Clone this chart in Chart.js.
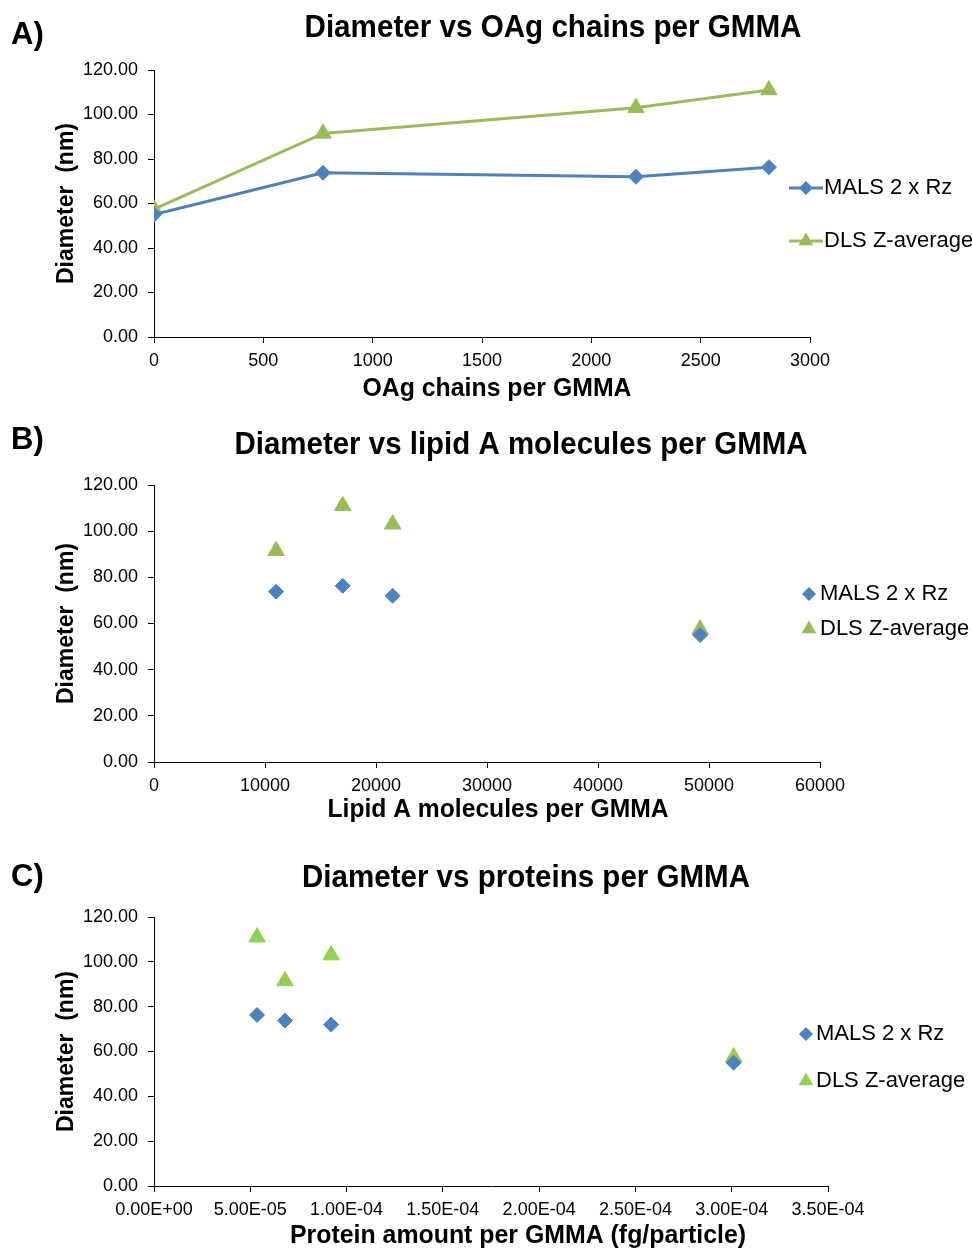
<!DOCTYPE html>
<html lang="en">
<head>
<meta charset="UTF-8">
<title>Diameter vs GMMA composition</title>
<style>
    body {
        margin: 0;
        background: #fff;
        font-family: "Liberation Sans", Arial, sans-serif;
    }
    .panel {
        position: absolute;
        left: 0;
        width: 972px;
    }
    #panelA { top: 0; height: 410px; }
    #panelB { top: 415px; height: 415px; }
    #panelC { top: 830px; height: 418px; }
</style>
<script src="https://cdn.jsdelivr.net/npm/chart.js"></script>
</head>
<body>
<div class="panel" id="panelA"><canvas id="chartA"></canvas></div>
<div class="panel" id="panelB"><canvas id="chartB"></canvas></div>
<div class="panel" id="panelC"><canvas id="chartC"></canvas></div>

<script>
// the same four GMMA preparations, plotted against three different measures
const oagChains = [0, 773, 2204, 2812];
const lipidAMolecules = [49200, 11000, 21500, 17000];
const proteinAmount = [3.01e-4, 6.8e-5, 9.2e-5, 5.35e-5];

const malsDiameter = [55.0, 73.8, 72.0, 76.3];
const dlsDiameter = [57.5, 91.5, 103.0, 111.0];

const seriesNames = ['MALS 2 x Rz', 'DLS Z-average'];

// axis ranges: [min, max, step]
const yRange = [0, 120, 20];
const oagRange = [0, 3000, 500];
const lipidRange = [0, 60000, 10000];
const proteinRange = [0, 3.5e-4, 5e-5];

const BLUE = '#4F81BD';
const GREEN = '#9BBB59';
const BRIGHT_GREEN = '#92D050';
const FONT = '"Liberation Sans", Arial, sans-serif';

function pairs(xs, ys) {
    return xs.map((x, i) => ({ x: x, y: ys[i] }))
             .sort((a, b) => a.x - b.x);
}

function sciLabel(v) {
    if (Math.abs(v) < 1e-12) return '0.00E+00';
    let s = v.toExponential(2).toUpperCase();
    let [m, e] = s.split('E');
    let sign = e[0];
    let digits = e.slice(1).padStart(2, '0');
    return m + 'E' + sign + digits;
}

// draws the panel letter, chart title, x axis title and the legend on the right
const panelText = {
    id: 'panelText',
    afterDraw(chart, args, o) {
        const ctx = chart.ctx;
        ctx.save();
        ctx.fillStyle = '#000';
        ctx.textBaseline = 'middle';

        ctx.font = 'bold 31px ' + FONT;
        ctx.textAlign = 'left';
        ctx.fillText(o.letter, 11, o.letterY, 38);

        ctx.textAlign = 'center';
        ctx.fillText(o.title, o.titleX, o.titleY, o.titleWidth);

        ctx.font = 'bold 25px ' + FONT;
        ctx.fillText(o.xTitle, o.xTitleX, o.xTitleY, o.xTitleWidth);

        ctx.font = '22px ' + FONT;
        ctx.textAlign = 'left';
        o.items.forEach((item, i) => {
            const y = o.legendY[i];
            const mx = o.markerX;
            if (o.withLine) {
                ctx.strokeStyle = item.color;
                ctx.lineWidth = 3;
                ctx.beginPath();
                ctx.moveTo(mx - 17, y);
                ctx.lineTo(mx + 17, y);
                ctx.stroke();
            }
            ctx.fillStyle = item.color;
            ctx.beginPath();
            if (item.shape === 'rectRot') {
                const r = 7;
                ctx.moveTo(mx - r, y);
                ctx.lineTo(mx, y - r);
                ctx.lineTo(mx + r, y);
                ctx.lineTo(mx, y + r);
            } else {
                const r = 8.5;
                ctx.moveTo(mx, y - r);
                ctx.lineTo(mx + r * 0.866, y + r / 2);
                ctx.lineTo(mx - r * 0.866, y + r / 2);
            }
            ctx.closePath();
            ctx.fill();
            ctx.fillStyle = '#000';
            ctx.fillText(item.text, o.textX, y);
        });
        ctx.restore();
    }
};

function makePanel(id, cfg) {
    const ctx = document.getElementById(id);
    const mals = {
        label: seriesNames[0],
        data: pairs(cfg.xs, malsDiameter),
        borderColor: BLUE,
        backgroundColor: BLUE,
        pointStyle: 'rectRot',
        pointRadius: 7.5,
        pointHoverRadius: 7.5,
        pointBorderWidth: 1,
        borderWidth: 3,
        showLine: cfg.withLine
    };
    const dls = {
        label: seriesNames[1],
        data: pairs(cfg.xs, dlsDiameter),
        borderColor: cfg.green,
        backgroundColor: cfg.green,
        pointStyle: 'triangle',
        pointRadius: 9.5,
        pointHoverRadius: 9.5,
        pointBorderWidth: 1,
        borderWidth: 3,
        showLine: cfg.withLine
    };

    return new Chart(ctx, {
        type: 'scatter',
        data: { datasets: [mals, dls] },
        plugins: [panelText],
        options: {
            responsive: true,
            maintainAspectRatio: false,
            animation: false,
            layout: {
                padding: { left: 0, right: 972 - cfg.right, top: cfg.top, bottom: 0 }
            },
            scales: {
                x: {
                    type: 'linear',
                    min: cfg.xRange[0],
                    max: cfg.xRange[1],
                    afterFit(scale) { scale.height = cfg.xAxisHeight; },
                    grid: { display: true, drawOnChartArea: false, drawTicks: true, tickLength: 6, color: '#000' },
                    border: { display: true, color: '#000', width: 1 },
                    ticks: {
                        stepSize: cfg.xRange[2],
                        color: '#000',
                        padding: 7,
                        maxRotation: 0,
                        autoSkip: false,
                        font: { family: FONT, size: 18 },
                        callback: cfg.xLabel
                    },
                    title: { display: false }
                },
                y: {
                    min: yRange[0],
                    max: yRange[1],
                    afterFit(scale) { scale.width = 154; },
                    grid: { display: true, drawOnChartArea: false, drawTicks: true, tickLength: 6, color: '#000' },
                    border: { display: true, color: '#000', width: 1 },
                    ticks: {
                        stepSize: yRange[2],
                        color: '#000',
                        padding: 10,
                        font: { family: FONT, size: 18 },
                        callback: v => v.toFixed(2)
                    },
                    title: {
                        display: true,
                        text: 'Diameter  (nm)',
                        color: '#000',
                        font: { family: FONT, size: 23, weight: 'bold' },
                        padding: { top: 53, bottom: 0 }
                    }
                }
            },
            plugins: {
                legend: { display: false },
                tooltip: { enabled: false },
                panelText: {
                    letter: cfg.letter,
                    letterY: cfg.letterY,
                    title: cfg.title,
                    titleX: cfg.titleX,
                    titleY: cfg.titleY,
                    titleWidth: cfg.titleWidth,
                    xTitle: cfg.xTitle,
                    xTitleX: cfg.xTitleX,
                    xTitleY: cfg.xTitleY,
                    xTitleWidth: cfg.xTitleWidth,
                    withLine: cfg.withLine,
                    markerX: cfg.markerX,
                    textX: cfg.textX,
                    legendY: cfg.legendY,
                    items: [
                        { text: seriesNames[0], color: BLUE, shape: 'rectRot' },
                        { text: seriesNames[1], color: cfg.green, shape: 'triangle' }
                    ]
                }
            }
        }
    });
}

makePanel('chartA', {
    xs: oagChains, xRange: oagRange, withLine: true, green: GREEN,
    top: 70, right: 810, xAxisHeight: 73,
    xLabel: v => String(v),
    xTitle: 'OAg chains per GMMA', xTitleX: 497, xTitleY: 389, xTitleWidth: 269,
    letter: 'A)', letterY: 35,
    title: 'Diameter vs OAg chains per GMMA', titleX: 553, titleY: 28, titleWidth: 497,
    markerX: 806, textX: 824, legendY: [188, 241]
});

makePanel('chartB', {
    xs: lipidAMolecules, xRange: lipidRange, withLine: false, green: GREEN,
    top: 70, right: 820, xAxisHeight: 68,
    xLabel: v => String(v),
    xTitle: 'Lipid A molecules per GMMA', xTitleX: 498, xTitleY: 395, xTitleWidth: 341,
    letter: 'B)', letterY: 25,
    title: 'Diameter vs lipid A molecules per GMMA', titleX: 521, titleY: 30, titleWidth: 573,
    markerX: 809, textX: 820, legendY: [179, 214]
});

makePanel('chartC', {
    xs: proteinAmount, xRange: proteinRange, withLine: false, green: BRIGHT_GREEN,
    top: 87, right: 828, xAxisHeight: 62,
    xLabel: sciLabel,
    xTitle: 'Protein amount per GMMA (fg/particle)', xTitleX: 518, xTitleY: 406, xTitleWidth: 456,
    letter: 'C)', letterY: 47,
    title: 'Diameter vs proteins per GMMA', titleX: 526, titleY: 48, titleWidth: 448,
    markerX: 806, textX: 816, legendY: [204, 251]
});
</script>
</body>
</html>
